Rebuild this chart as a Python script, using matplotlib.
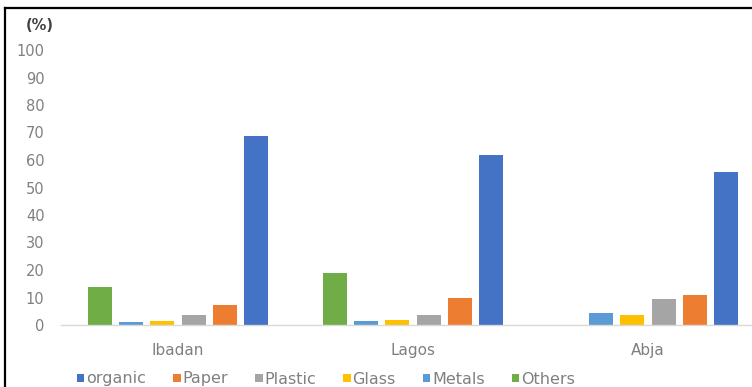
import numpy as np
import matplotlib.pyplot as plt
from matplotlib.lines import Line2D

plt.rcParams['font.family'] = ['DejaVu Sans']

cities = ["Ibadan", "Lagos", "Abja"]
materials = ["organic", "Paper", "Plastic", "Glass", "Metals", "Others"]
colors = ["#4472C4", "#ED7D31", "#A5A5A5", "#FFC000", "#5B9BD5", "#70AD47"]

organic = [68.7, 62.0, 55.7]
paper = [7.2, 9.9, 10.8]
plastic = [3.6, 3.5, 9.6]
glass = [1.5, 1.9, 3.5]
metals = [1.1, 1.5, 4.5]
others = [13.9, 19.0, 0.0]

series = [organic, paper, plastic, glass, metals, others]

fig = plt.figure(figsize=(7.52, 3.87), dpi=100)
ax = fig.add_axes([60.5 / 752, 62 / 387, 705 / 752, 275 / 387])

x = np.arange(len(cities))
step = 0.133
width = 0.102
n = len(series)
handles = []
for i, (name, vals, col) in enumerate(zip(materials, series, colors)):
    # first series sits on the right of each group, last on the left
    offset = ((n - 1) / 2 - i) * step
    bars = ax.bar(x + offset, vals, width, color=col, label=name)
    handles.append(bars)

ax.set_xlim(-0.5, 2.5)
ax.set_ylim(0, 100)
ax.set_yticks(np.arange(0, 101, 10))
ax.set_xticks(x)
ax.set_xticklabels(cities)

for side in ["top", "right", "left"]:
    ax.spines[side].set_visible(False)
ax.spines["bottom"].set_color("#D9D9D9")
ax.spines["bottom"].set_linewidth(1.0)
ax.tick_params(axis="both", length=0, colors="#808080")
ax.tick_params(axis="y", pad=11.5, labelsize=10.5)
ax.tick_params(axis="x", pad=13, labelsize=11)

fig.text(40 / 752, 1 - 25 / 387, "(%)", ha="center", va="center",
         fontsize=10.5, fontweight="bold", color="#404040")

fig.legend(handles=handles, loc="center", bbox_to_anchor=(326 / 752, 1 - 379 / 387),
           ncols=6, frameon=False, fontsize=11.5, handlelength=0.45, handleheight=0.45,
           handletextpad=0.12, columnspacing=1.7, labelcolor="#808080",
           borderpad=0, borderaxespad=0)

# frame edges along the top and left of the figure
fig.add_artist(Line2D([5 / 752, 5 / 752], [0, 1 - 8 / 387], transform=fig.transFigure,
                      color="black", linewidth=1.6))
fig.add_artist(Line2D([5 / 752, 1], [1 - 8 / 387, 1 - 8 / 387], transform=fig.transFigure,
                      color="black", linewidth=1.6))

fig.savefig("out.png", dpi=100)
